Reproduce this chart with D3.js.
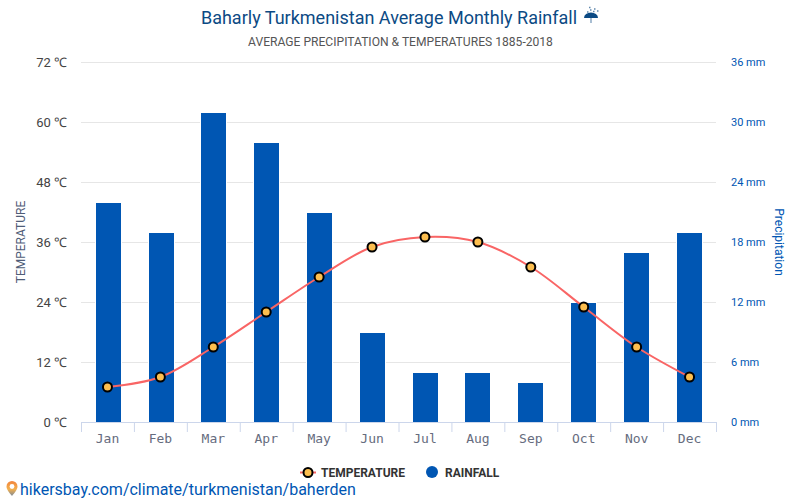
<!DOCTYPE html>
<html>
<head>
<meta charset="utf-8">
<script src="https://cdn.jsdelivr.net/npm/d3@7"></script>
<style>
  html, body { margin: 0; padding: 0; background: #fff; }
  text { font-family: Roboto, sans-serif; }
  .domain { display: none; }
</style>
</head>
<body>
<svg id="chart" width="800" height="500"></svg>
<script>
const months = ['Jan', 'Feb', 'Mar', 'Apr', 'May', 'Jun', 'Jul', 'Aug', 'Sep', 'Oct', 'Nov', 'Dec'];
const temperature = [7, 9, 15, 22, 29, 35, 37, 36, 31, 23, 15, 9];
const rainfall = [22, 19, 31, 28, 21, 9, 5, 5, 4, 12, 17, 19];
const tempTicks = [0, 12, 24, 36, 48, 60, 72];
const rainTicks = [0, 6, 12, 18, 24, 30, 36];

const margin = { top: 62, right: 84, bottom: 78, left: 81 };
const width = 800;
const height = 500;
const blue = '#0056b3';
const navy = '#0c4a84';

const svg = d3.select('#chart');

const defs = svg.append('defs');
const pinFill = defs.append('linearGradient')
  .attr('id', 'pin-fill')
  .attr('x1', 0).attr('x2', 0).attr('y1', 0).attr('y2', 1);
pinFill.append('stop').attr('offset', '0%').attr('stop-color', '#f2843c');
pinFill.append('stop').attr('offset', '55%').attr('stop-color', '#f3b04e');
pinFill.append('stop').attr('offset', '100%').attr('stop-color', '#7d8a9a');

const x = d3.scaleBand()
  .domain(months)
  .range([margin.left, width - margin.right]);
// bars sit on a slightly narrower band than the axis ticks
const xBar = d3.scaleBand()
  .domain(months)
  .range([margin.left + 0.9, width - margin.right - 0.5]);
const yTemp = d3.scaleLinear()
  .domain([0, 72])
  .range([height - margin.bottom, margin.top]);
const yRain = d3.scaleLinear()
  .domain([0, 36])
  .range([height - margin.bottom, margin.top]);

// gridlines
svg.append('g')
  .selectAll('line')
  .data(tempTicks.slice(1))
  .join('line')
  .attr('x1', margin.left)
  .attr('x2', width - margin.right)
  .attr('y1', d => yTemp(d) + 0.5)
  .attr('y2', d => yTemp(d) + 0.5)
  .attr('stroke', '#e6e6e6');

// bars, the white outline cuts the gridlines either side
const barWidth = 25;
svg.append('g')
  .selectAll('rect')
  .data(rainfall)
  .join('rect')
  .attr('x', (d, i) => Math.round(xBar(months[i]) + (xBar.bandwidth() - barWidth) / 2))
  .attr('y', d => yRain(d) + 1)
  .attr('width', barWidth)
  .attr('height', d => yRain(0) - yRain(d) - 1)
  .attr('fill', blue)
  .attr('stroke', '#fff')
  .attr('stroke-width', 2)
  .style('paint-order', 'stroke');

// bottom axis
const xAxis = svg.append('g')
  .attr('transform', `translate(0,${height - margin.bottom + 0.5})`)
  .call(d3.axisBottom(x).tickSize(0).tickPadding(11));
xAxis.selectAll('text')
  .style('font-family', '"DejaVu Sans Mono", monospace')
  .style('font-size', '13px')
  .attr('fill', '#666c7e');
svg.append('g')
  .selectAll('line')
  .data(months.concat('end'))
  .join('line')
  .attr('x1', (d, i) => margin.left + i * x.bandwidth() + 0.5)
  .attr('x2', (d, i) => margin.left + i * x.bandwidth() + 0.5)
  .attr('y1', height - margin.bottom)
  .attr('y2', height - margin.bottom + 10)
  .attr('stroke', '#ccd6eb');
svg.append('line')
  .attr('x1', margin.left)
  .attr('x2', width - margin.right)
  .attr('y1', height - margin.bottom + 0.5)
  .attr('y2', height - margin.bottom + 0.5)
  .attr('stroke', '#ccd6eb');

// left axis
const leftAxis = svg.append('g')
  .attr('transform', `translate(${margin.left},0)`)
  .call(d3.axisLeft(yTemp).tickValues(tempTicks).tickSize(0).tickPadding(14)
    .tickFormat(d => `${d} ℃`));
leftAxis.selectAll('text')
  .style('font-size', '13px')
  .attr('fill', '#444');

// right axis
const rightAxis = svg.append('g')
  .attr('transform', `translate(${width - margin.right},0)`)
  .call(d3.axisRight(yRain).tickValues(rainTicks).tickSize(0).tickPadding(15)
    .tickFormat(d => `${d} mm`));
rightAxis.selectAll('text')
  .style('font-size', '11px')
  .attr('fill', blue);

// axis titles
svg.append('text')
  .attr('transform', 'translate(25,242) rotate(-90)')
  .attr('text-anchor', 'middle')
  .attr('font-size', 12)
  .attr('fill', '#4f5d78')
  .text('TEMPERATURE');
svg.append('text')
  .attr('transform', 'translate(775,242) rotate(90)')
  .attr('text-anchor', 'middle')
  .attr('font-size', 12)
  .attr('fill', blue)
  .text('Precipitation');

// temperature line
const xCenter = i => x(months[i]) + x.bandwidth() / 2;
const line = d3.line()
  .x((d, i) => xCenter(i))
  .y(d => yTemp(d))
  .curve(d3.curveCatmullRom.alpha(0.5));
svg.append('path')
  .datum(temperature)
  .attr('d', line)
  .attr('fill', 'none')
  .attr('stroke', '#f96565')
  .attr('stroke-width', 2);
svg.append('g')
  .selectAll('circle')
  .data(temperature)
  .join('circle')
  .attr('cx', (d, i) => xCenter(i))
  .attr('cy', d => yTemp(d))
  .attr('r', 4.5)
  .attr('fill', '#fcbe4f')
  .attr('stroke', '#000')
  .attr('stroke-width', 2);

// titles
svg.append('text')
  .attr('x', 389)
  .attr('y', 24)
  .attr('text-anchor', 'middle')
  .attr('font-size', 18)
  .attr('fill', navy)
  .text('Baharly Turkmenistan Average Monthly Rainfall');
svg.append('text')
  .attr('x', 400.5)
  .attr('y', 46)
  .attr('text-anchor', 'middle')
  .attr('font-size', 12.1)
  .attr('fill', '#555')
  .text('AVERAGE PRECIPITATION & TEMPERATURES 1885-2018');

// umbrella icon after the title
const umbrella = svg.append('g').attr('transform', 'translate(591,18)');
umbrella.append('path')
  .attr('d', 'M-7 0a7 5.500 0 0 1 14 0z')
  .attr('fill', navy);
umbrella.append('path')
  .attr('d', 'M0 0v5')
  .attr('stroke', '#6f93b5')
  .attr('stroke-width', 1.2);
umbrella.append('path')
  .attr('d', 'M-4-6h1.500M-1-8h1.500M3-9h1.500M-2-10.500h1.500M2-6.500h1.500M6-7h1.500')
  .attr('stroke', '#5f87ad')
  .attr('stroke-width', 1.500);

// legend
const legend = svg.append('g');
legend.append('line')
  .attr('x1', 300).attr('x2', 316)
  .attr('y1', 472.5).attr('y2', 472.5)
  .attr('stroke', '#f96565').attr('stroke-width', 2);
legend.append('circle')
  .attr('cx', 308).attr('cy', 472.5).attr('r', 4.5)
  .attr('fill', '#fcbe4f').attr('stroke', '#000').attr('stroke-width', 2);
legend.append('text')
  .attr('x', 321).attr('y', 477)
  .attr('font-size', 12).attr('font-weight', 700).attr('fill', '#333')
  .text('TEMPERATURE');
legend.append('circle')
  .attr('cx', 432).attr('cy', 472).attr('r', 6)
  .attr('fill', blue);
legend.append('text')
  .attr('x', 445).attr('y', 477)
  .attr('font-size', 12).attr('font-weight', 700).attr('fill', '#333')
  .text('RAINFALL');

// source link with pin
svg.append('path')
  .attr('d', 'M12 481a5.500 5.500 0 0 1 5.500 5.500c0 3-3 6.500-5.500 9.500c-2.500-3-5.500-6.500-5.500-9.500a5.500 5.500 0 0 1 5.500-5.500z')
  .attr('fill', 'url(#pin-fill)');
svg.append('circle')
  .attr('cx', 12).attr('cy', 486.5).attr('r', 2.4).attr('fill', '#fff');
svg.append('text')
  .attr('x', 20)
  .attr('y', 495)
  .attr('font-size', 16)
  .attr('fill', blue)
  .text('hikersbay.com/climate/turkmenistan/baherden');
</script>
</body>
</html>
